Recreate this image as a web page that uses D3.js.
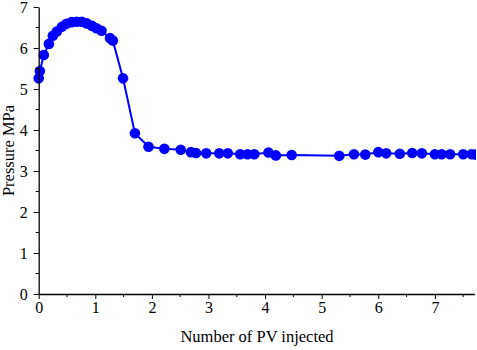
<!DOCTYPE html>
<html>
<head>
<meta charset="utf-8">
<script src="https://cdn.jsdelivr.net/npm/d3@7"></script>
<style>
  body { margin: 0; background: #fff; }
  svg { display: block; }
  svg text { font-family: "Liberation Serif", "Times New Roman", Times, serif !important; fill: #000; }
</style>
</head>
<body>
<svg id="chart" width="477" height="350"></svg>
<script>
const pvInjected = [0, 0.02, 0.09, 0.18, 0.25, 0.32, 0.41, 0.49, 0.58, 0.67, 0.76, 0.85, 0.94, 1.02, 1.11,
  1.26, 1.31, 1.49, 1.70, 1.94, 2.22, 2.51, 2.69, 2.78, 2.96, 3.19, 3.34, 3.56, 3.69, 3.81,
  4.06, 4.19, 4.47, 5.31, 5.57, 5.77, 6.0, 6.14, 6.38, 6.6, 6.77, 7.0, 7.12, 7.27, 7.5, 7.65, 7.72];
const pressure = [5.26, 5.44, 5.83, 6.10, 6.30, 6.40, 6.52, 6.59, 6.63, 6.64, 6.64, 6.60, 6.54, 6.48, 6.42,
  6.24, 6.18, 5.26, 3.92, 3.59, 3.54, 3.52, 3.46, 3.44, 3.43, 3.43, 3.43, 3.41, 3.41, 3.41,
  3.45, 3.38, 3.39, 3.37, 3.41, 3.40, 3.46, 3.43, 3.42, 3.44, 3.43, 3.41, 3.41, 3.41, 3.41, 3.41, 3.40];
const xTicks = [0, 1, 2, 3, 4, 5, 6, 7];
const yTicks = [0, 1, 2, 3, 4, 5, 6, 7];

const svg = d3.select("#chart");
const margin = { left: 38.7, right: 474.5, top: 7, bottom: 294 };

const x = d3.scaleLinear().domain([0, 7.7]).range([margin.left, margin.right]);
const y = d3.scaleLinear().domain([0, 7]).range([margin.bottom, margin.top]);

const data = pvInjected.map((v, i) => ({ x: v, y: pressure[i] }));

svg.append("clipPath").attr("id", "clip")
  .append("rect").attr("x", 0).attr("y", 0).attr("width", 476).attr("height", 350);

const plot = svg.append("g").attr("clip-path", "url(#clip)");

plot.append("path")
  .datum(data)
  .attr("fill", "none")
  .attr("stroke", "#0000ff")
  .attr("stroke-width", 2)
  .attr("d", d3.line().x(d => x(d.x)).y(d => y(d.y)));

plot.selectAll(".pt")
  .data(data)
  .join("circle")
  .attr("class", "pt")
  .attr("cx", d => x(d.x))
  .attr("cy", d => y(d.y))
  .attr("r", 5.3)
  .attr("fill", "#0000ff");

// minor ticks
const minorX = d3.range(0.5, 7.7, 1);
const minorY = d3.range(0.5, 7, 1);

const xAxis = svg.append("g").attr("transform", `translate(0,${margin.bottom})`)
  .call(d3.axisBottom(x).tickValues(xTicks).tickFormat(d3.format("d")).tickSize(5).tickSizeOuter(0).tickPadding(3));
xAxis.append("g").selectAll("line").data(minorX).join("line")
  .attr("x1", d => x(d)).attr("x2", d => x(d)).attr("y1", 0).attr("y2", 3)
  .attr("stroke", "#000");

const yAxis = svg.append("g").attr("transform", `translate(${margin.left},0)`)
  .call(d3.axisLeft(y).tickValues(yTicks).tickFormat(d3.format("d")).tickSize(5).tickSizeOuter(0).tickPadding(6));
yAxis.append("g").selectAll("line").data(minorY).join("line")
  .attr("y1", d => y(d)).attr("y2", d => y(d)).attr("x1", 0).attr("x2", -3)
  .attr("stroke", "#000");

svg.selectAll(".domain").attr("stroke", "#000").attr("stroke-width", 1.3);
svg.selectAll(".tick text").attr("font-size", 16);

svg.append("text")
  .attr("x", 257).attr("y", 342)
  .attr("text-anchor", "middle")
  .attr("font-size", 16.5)
  .text("Number of PV injected");

svg.append("text")
  .attr("transform", `translate(14,${(margin.top + margin.bottom) / 2}) rotate(-90)`)
  .attr("text-anchor", "middle")
  .attr("font-size", 16.5)
  .text("Pressure MPa");
</script>
</body>
</html>
